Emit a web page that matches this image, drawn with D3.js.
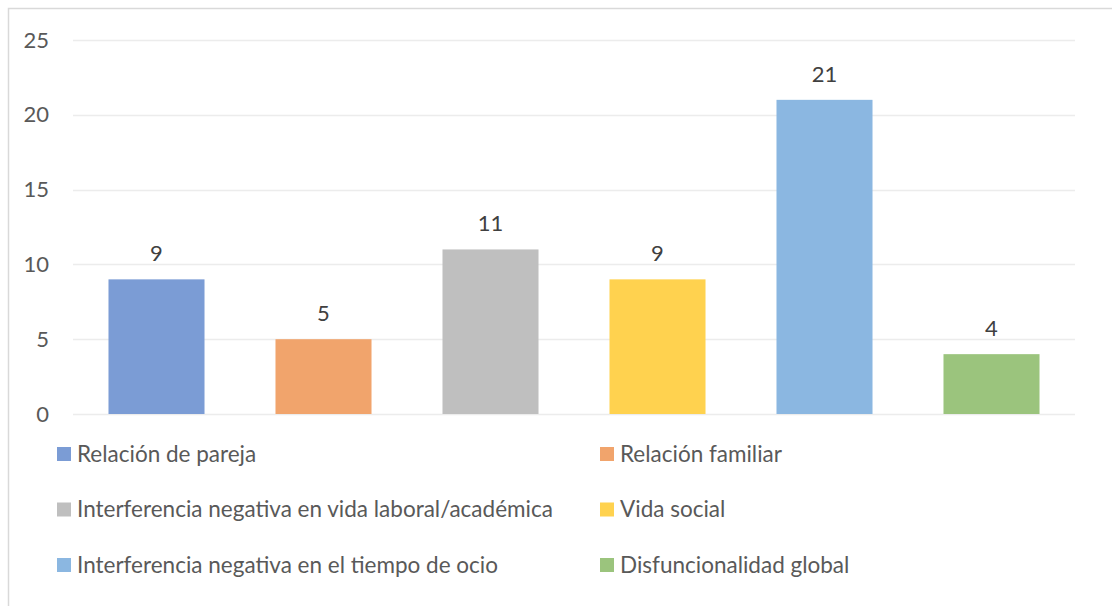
<!DOCTYPE html>
<html>
<head>
<meta charset="utf-8">
<script src="https://cdn.jsdelivr.net/npm/d3@7"></script>
<style>
  body { margin: 0; background: #fff; }
  text { font-family: Lato, "Open Sans", sans-serif; }
</style>
</head>
<body>
<div id="chart"></div>
<script>
// data
var categories = [
  "Relación de pareja",
  "Relación familiar",
  "Interferencia negativa en vida laboral/académica",
  "Vida social",
  "Interferencia negativa en el tiempo de ocio",
  "Disfuncionalidad global"
];
var values = [9, 5, 11, 9, 21, 4];
var colors = ["#7B9CD5", "#F1A46C", "#BFBFBF", "#FFD24F", "#8BB7E1", "#9BC47D"];
var yTicks = [0, 5, 10, 15, 20, 25];

var svgWidth = 1112;
var svgHeight = 606;

// plot area
var margin = { top: 40, right: 37, bottom: 192, left: 73 };
var width = svgWidth - margin.left - margin.right;
var height = svgHeight - margin.top - margin.bottom;

var svg = d3.select("#chart")
  .append("svg")
  .attr("width", svgWidth)
  .attr("height", svgHeight);

// outer frame (only top/left visible in the picture)
svg.append("rect")
  .attr("x", 8.5)
  .attr("y", 8.5)
  .attr("width", svgWidth + 20)
  .attr("height", svgHeight + 20)
  .attr("fill", "none")
  .attr("stroke", "#d9d9d9")
  .attr("stroke-width", 1.5);

var chart = svg.append("g")
  .attr("transform", `translate(${margin.left}, ${margin.top})`);

var x = d3.scaleBand()
  .domain(categories)
  .range([0, width])
  .paddingInner(0.425)
  .paddingOuter(0.2125);

var y = d3.scaleLinear()
  .domain([0, 25])
  .range([height, 0]);

// gridlines
chart.append("g")
  .selectAll("line")
  .data(yTicks)
  .enter()
  .append("line")
  .attr("x1", 0)
  .attr("x2", width)
  .attr("y1", d => Math.round(y(d)) + 0.5)
  .attr("y2", d => Math.round(y(d)) + 0.5)
  .attr("stroke", "#ececec")
  .attr("stroke-width", 1.5);

// y axis labels
var leftAxis = d3.axisLeft(y).tickValues(yTicks).tickSize(0).tickPadding(24);
var yAxis = chart.append("g").call(leftAxis);
yAxis.select(".domain").remove();
yAxis.selectAll("text")
  .attr("fill", "#595959")
  .style("font-size", "22px");

// bars
chart.selectAll(".bar")
  .data(values)
  .enter()
  .append("rect")
  .attr("class", "bar")
  .attr("x", (d, i) => x(categories[i]))
  .attr("y", d => y(d))
  .attr("width", x.bandwidth())
  .attr("height", d => height - y(d))
  .attr("fill", (d, i) => colors[i]);

// value labels
chart.selectAll(".val")
  .data(values)
  .enter()
  .append("text")
  .attr("class", "val")
  .attr("x", (d, i) => x(categories[i]) + x.bandwidth() / 2)
  .attr("y", d => y(d) - 18)
  .attr("text-anchor", "middle")
  .attr("fill", "#404040")
  .style("font-size", "22px")
  .text(d => d);

// legend, two columns
var legend = svg.append("g");
var items = legend.selectAll("g")
  .data(categories)
  .enter()
  .append("g")
  .attr("transform", (d, i) => `translate(${i % 2 === 0 ? 57 : 600}, ${447 + Math.floor(i / 2) * 55.5})`);

items.append("rect")
  .attr("width", 14)
  .attr("height", 14)
  .attr("fill", (d, i) => colors[i]);

items.append("text")
  .attr("x", 20)
  .attr("y", 7)
  .attr("dy", "0.35em")
  .attr("fill", "#595959")
  .style("font-size", "22.5px")
  .text(d => d);
</script>
</body>
</html>
